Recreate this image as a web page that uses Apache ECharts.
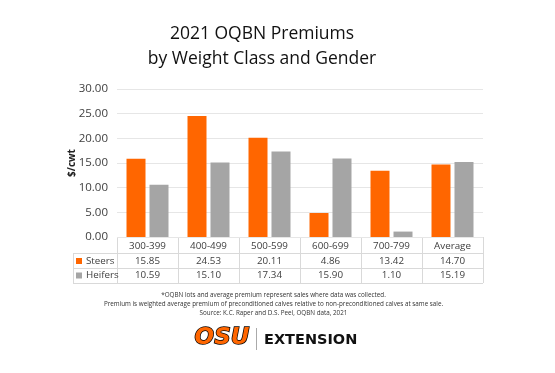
<!DOCTYPE html>
<html><head><meta charset="utf-8">
<script src="https://cdn.jsdelivr.net/npm/echarts@6/dist/echarts.min.js"></script>
<style>html,body{margin:0;padding:0;background:#fff}#c{width:555px;height:373px}</style>
</head><body><div id="c"></div>
<script>
const categories = ['300-399','400-499','500-599','600-699','700-799','Average'];
const steers = [15.85, 24.53, 20.11, 4.86, 13.42, 14.70];
const heifers = [10.59, 15.10, 17.34, 15.90, 1.10, 15.19];
const seriesNames = ['Steers','Heifers'];
const yTicks = {min: 0, max: 30, interval: 5};
const titleLines = ['2021 OQBN Premiums', 'by Weight Class and Gender'];
const yName = '$/cwt';
const notes = [
  '*OQBN lots and average premium represent sales where data was collected.',
  'Premium is weighted average premium of preconditioned calves relative to non-preconditioned calves at same sale.',
  'Source: K.C. Raper and D.S. Peel, OQBN data, 2021'
];

const FONT = 'Open Sans';
const ORANGE = '#FF6600', GRAY = '#A5A5A5', LINE = '#D9D9D9', TXT = '#404040';
const L = 117, R = 483, AX = 237, ROWS = [253, 268, 283], LEGL = 73;

const chart = echarts.init(document.getElementById('c'), null, {renderer: 'canvas'});

const lines = [];
lines.push({type:'line', shape:{x1:L, y1:AX+0.5, x2:R, y2:AX+0.5}, style:{stroke:LINE, lineWidth:1}});
ROWS.forEach(y => lines.push({type:'line', shape:{x1:LEGL, y1:y+0.5, x2:R, y2:y+0.5}, style:{stroke:LINE, lineWidth:1}}));
const cw = (R - L) / categories.length;
for (let i = 0; i <= categories.length; i++) {
  const x = Math.round(L + i * cw) + 0.5;
  lines.push({type:'line', shape:{x1:x, y1:AX, x2:x, y2:ROWS[2]}, style:{stroke:LINE, lineWidth:1}});
}
lines.push({type:'line', shape:{x1:LEGL+0.5, y1:ROWS[0], x2:LEGL+0.5, y2:ROWS[2]}, style:{stroke:LINE, lineWidth:1}});

const noteTexts = notes.map((t, i) => ({
  type:'text', x: 273.5, y: 295 + i*9,
  style:{text:t, font:'6.3px "' + FONT + '"', fill:'#333', textAlign:'center', textVerticalAlign:'middle'}
}));

const xBase = {type:'category', data: categories, gridIndex:0, position:'bottom',
  axisTick:{show:false}, axisLine:{show:false}, splitLine:{show:false}};
const tblLabel = {fontFamily:FONT, fontSize:9.8, color:TXT, margin:2, lineHeight:14};

const legendBase = {orient:'horizontal', left:76, padding:0, itemWidth:6, itemHeight:6, icon:'rect', itemGap:0,
  textStyle:{fontFamily:FONT, fontSize:9.8, color:TXT, padding:[0,0,0,-1]}};

chart.setOption({
  animation:false,
  title:{
    text: titleLines.join('\n'), left: 257, top: 17, textAlign:'center',
    textStyle:{fontFamily:FONT, fontSize:17.5, fontWeight:'normal', color:'#111', lineHeight:25}
  },
  legend:[
    Object.assign({}, legendBase, {data:[seriesNames[0]], top:256}),
    Object.assign({}, legendBase, {data:[seriesNames[1]], top:270.5})
  ],
  grid:{left:L, right:555-R, top:89, bottom:373-AX},
  xAxis:[
    Object.assign({}, xBase, {axisLabel:Object.assign({}, tblLabel)}),
    Object.assign({}, xBase, {offset:15,
      axisLabel:Object.assign({}, tblLabel, {formatter:(v, i) => steers[i].toFixed(2)})}),
    Object.assign({}, xBase, {offset:29.5,
      axisLabel:Object.assign({}, tblLabel, {formatter:(v, i) => heifers[i].toFixed(2)})})
  ],
  yAxis:{
    type:'value', min:yTicks.min, max:yTicks.max, interval:yTicks.interval,
    name: yName, nameLocation:'middle', nameGap:40, nameRotate:90, nameMoveOverlap:false,
    nameTextStyle:{fontFamily:FONT, fontSize:10, fontWeight:'bold', color:'#222'},
    axisLabel:{fontFamily:FONT, fontSize:11.5, color:'#404040', margin:9, formatter:v => v.toFixed(2)},
    axisLine:{show:false}, axisTick:{show:false},
    splitLine:{lineStyle:{color:'#E6E6E6'}}
  },
  series:[
    {name:seriesNames[0], type:'bar', data:steers, itemStyle:{color:ORANGE}, barWidth:19, barGap:'21%'},
    {name:seriesNames[1], type:'bar', data:heifers, itemStyle:{color:GRAY}, barWidth:19}
  ],
  graphic: lines.concat(noteTexts).concat([
    {type:'text', x: 222, y: 338,
      style:{text:'OSU', font:'italic bold 23px "DejaVu Sans"', fill:ORANGE, stroke:'#000', lineWidth:1.5,
        textAlign:'center', textVerticalAlign:'middle'}},
    {type:'line', shape:{x1:256.5, y1:328, x2:256.5, y2:350}, style:{stroke:'#AAA', lineWidth:1}},
    {type:'text', x: 264, y: 340,
      style:{text:'EXTENSION', font:'bold 14.5px "DejaVu Sans"', fill:'#111', textVerticalAlign:'middle'}}
  ])
});
</script></body></html>
